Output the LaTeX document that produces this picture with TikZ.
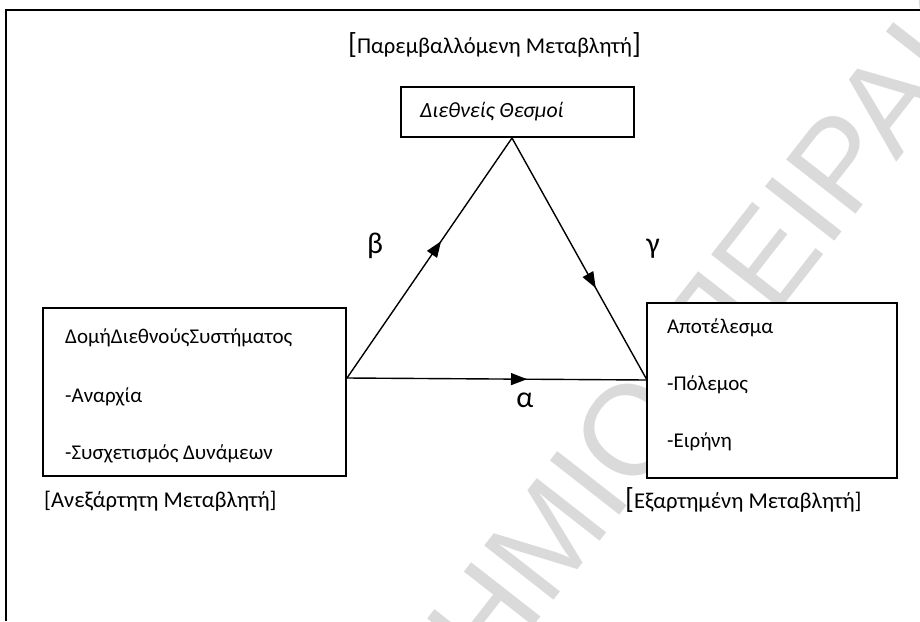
\documentclass[tikz,border=0pt]{standalone}
\usepackage{fontspec}
\setmainfont{Carlito}
\newfontfamily\wmfont{Liberation Sans}
\usetikzlibrary{arrows.meta,decorations.markings}
\definecolor{wmgray}{RGB}{218,218,218}
\newcommand{\bigbr}[1]{{\fontsize{29}{30}\selectfont #1}}
\tikzset{
  box/.style={draw=black, line width=1.6pt, fill=white, inner sep=0pt},
  txt/.style={anchor=base west, inner sep=0pt, font=\fontsize{21}{25}\selectfont},
  lbl/.style={anchor=base west, inner sep=0pt, font=\fontsize{22.6}{26}\selectfont},
  greeklbl/.style={anchor=base, inner sep=0pt, font=\fontsize{30}{34}\selectfont},
  conn/.style={line width=1.4pt},
  midarrow/.style={postaction={decorate}, decoration={markings, mark=at position #1 with {\arrow{Triangle[length=16pt,width=12pt]}}}},
  wmark/.style={inner sep=0pt, text=wmgray, font=\wmfont\fontsize{128}{150}\selectfont},
  frame/.style={line width=1.6pt}
}
\begin{document}
\begin{tikzpicture}[x=1pt,y=-1pt]
\useasboundingbox (0,0) rectangle (920,621);
% watermark
\node[wmark, rotate=52, anchor=base] (wm) at (587,558) {ΠΑΝΕΠΙΣΤΗΜΙΟ ΠΕΙΡΑΙΩΣ};
% frame
\draw[frame] (920,10) -- (6,10) -- (6,621);
% title
\node[lbl] (title) at (348,53) {\bigbr{[}Παρεμβαλλόμενη Μεταβλητή\bigbr{]}};
% boxes
\node[box, minimum width=233pt, minimum height=50pt] (T) at (517.5,112) {};
\node[box, minimum width=303pt, minimum height=168pt] (L) at (194.5,392) {};
\node[box, minimum width=250pt, minimum height=175pt] (R) at (772,390.5) {};
% box texts
\node[txt, font=\fontsize{21.7}{25}\selectfont\itshape] (Tt) at (420,117) {Διεθνείς Θεσμοί};
\node[txt] (L1) at (65,343) {ΔομήΔιεθνούςΣυστήματος};
\node[txt] (L2) at (65,402) {-Αναρχία};
\node[txt] (L3) at (65,459) {-Συσχετισμός Δυνάμεων};
\node[txt] (R1) at (667,333) {Αποτέλεσμα};
\node[txt] (R2) at (667,390) {-Πόλεμος};
\node[txt] (R3) at (667,447) {-Ειρήνη};
% labels under boxes
\node[lbl] (Llab) at (44,507) {[Ανεξάρτητη Μεταβλητή]};
\node[lbl] (Rlab) at (625,508) {\bigbr{[}Εξαρτημένη Μεταβλητή]};
% connector points
\coordinate (pL) at (347,378);
\coordinate (pT) at (512,138);
\coordinate (pR) at (647,380);
\draw[conn, midarrow=0.57] (pL) -- (pT);
\draw[conn, midarrow=0.62] (pT) -- (pR);
\draw[conn, midarrow=0.6] (pL) -- (pR);
% greek labels
\node[greeklbl] (b) at (375,253) {β};
\node[greeklbl] (g) at (653,253) {γ};
\node[greeklbl] (a) at (525,407) {α};
\end{tikzpicture}
\end{document}
